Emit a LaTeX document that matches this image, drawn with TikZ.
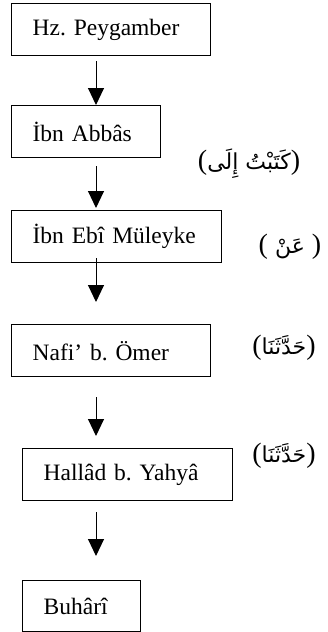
\documentclass[tikz,border=0pt]{standalone}
\usepackage{fontspec}
\setmainfont{Liberation Serif}
\newfontfamily\arabicfont[Script=Arabic]{DejaVu Sans}
\TeXXeTstate=1
\frenchspacing
\usetikzlibrary{arrows.meta}
\begin{document}
\begin{tikzpicture}[x=1pt,y=-1pt,
  boxnode/.style={draw,line width=1.3pt,anchor=north west,minimum height=52pt,
    inner xsep=21pt,inner ysep=0pt,align=left,font=\fontsize{23.5}{28}\selectfont\frenchspacing},
  arr/.style={line width=1pt,-{Triangle[width=16pt,length=17pt]}},
  lbl/.style={inner sep=0pt,font=\fontsize{28}{32}\selectfont},
  arfont/.style={}
]
\useasboundingbox (0,0) rectangle (327,632);
\node[boxnode,text width=157pt] (b1) at (11,3) {Hz. Peygamber};
\node[boxnode,text width=107pt] (b2) at (11,105) {İbn Abbâs};
\node[boxnode,text width=168pt] (b3) at (11,210) {İbn Ebî Müleyke};
\node[boxnode,text width=157pt] (b4) at (11,324) {Nafi’ b. Ömer};
\node[boxnode,text width=168pt] (b5) at (22,448) {Hallâd b. Yahyâ};
\node[boxnode,text width=76pt,minimum height=51.3pt] (b6) at (22,580) {Buhârî};

\draw[arr] ([xshift=85pt,yshift=-5pt]b1.south west) -- ([xshift=85pt]b2.north west);
\draw[arr] ([xshift=85pt,yshift=-8pt]b2.south west) -- ([xshift=85pt,yshift=2pt]b3.north west);
\coordinate (e3) at ([xshift=85pt,yshift=22pt]b4.north west);
\draw[arr] ([xshift=85pt,yshift=5pt]b3.south west) -- (e3);
\coordinate (s4) at ([xshift=85pt,yshift=-20pt]b4.south west);
\coordinate (e4) at ([xshift=74pt,yshift=12pt]b5.north west);
\draw[arr] (s4) -- (e4);
\coordinate (s5) at ([xshift=74pt,yshift=-11pt]b5.south west);
\coordinate (e5) at ([xshift=74pt,yshift=24pt]b6.north west);
\draw[arr] (s5) -- (e5);

\node[lbl] (l1) at (249,164) {({\fontsize{22}{28}\arabicfont\beginR كَتَبْتُ إِلَى\endR})};
\node[lbl] (l2) at (290,247) {( {\fontsize{22}{28}\arabicfont\beginR عَنْ\endR} )};
\node[lbl] (l3) at (284,348) {({\fontsize{22}{28}\arabicfont\beginR حَدَّثَنَا\endR})};
\node[lbl] (l4) at (284,456) {({\fontsize{22}{28}\arabicfont\beginR حَدَّثَنَا\endR})};
\end{tikzpicture}
\end{document}
